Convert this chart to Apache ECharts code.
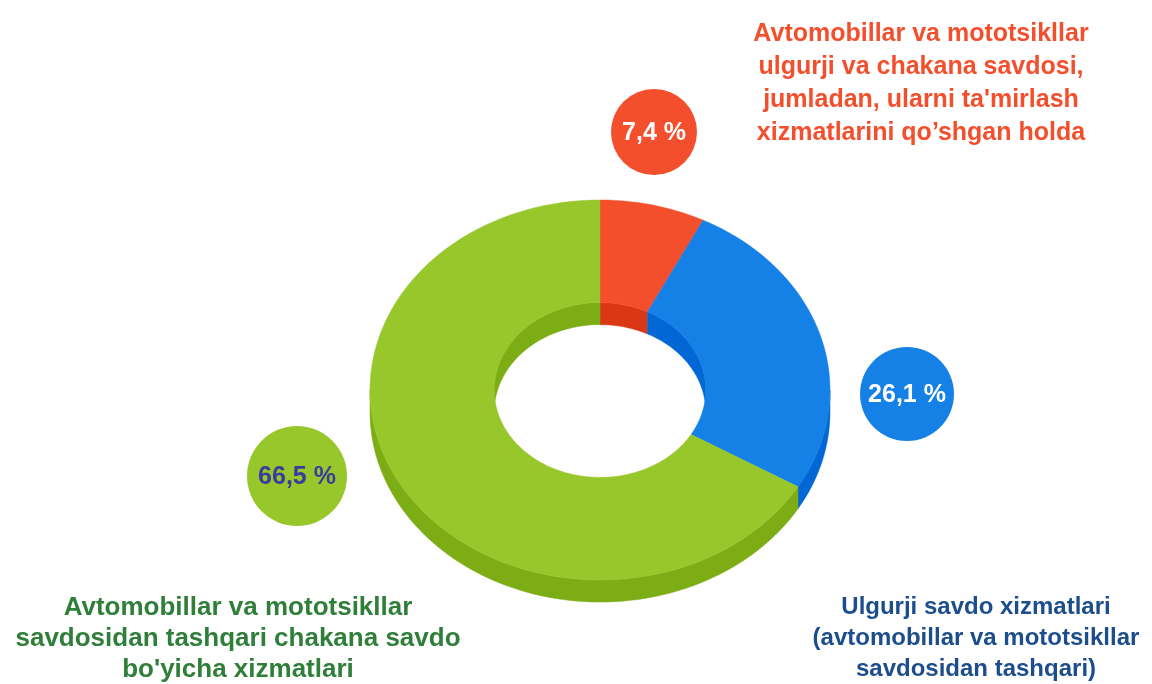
<!DOCTYPE html>
<html lang="uz">
<head>
<meta charset="UTF-8" />
<title>Savdo xizmatlari tarkibi</title>
<script src="https://cdn.jsdelivr.net/npm/echarts@6/dist/echarts.min.js"></script>
<style>
    * { margin: 0; }
    #chart { width: 1152px; height: 684px; background: #fff; }
</style>
</head>
<body>
<div id="chart"></div>
<script>
const categories = [
    "Avtomobillar va mototsikllar\nulgurji va chakana savdosi,\njumladan, ularni ta'mirlash\nxizmatlarini qo’shgan holda",
    "Ulgurji savdo xizmatlari\n(avtomobillar va mototsikllar\nsavdosidan tashqari)",
    "Avtomobillar va mototsikllar\nsavdosidan tashqari chakana savdo\nbo'yicha xizmatlari"
];
const shares = [7.4, 26.1, 66.5];

const topColors = ["#F44F2D", "#1580E6", "#97C72B"];
const sideColors = ["#DA3814", "#0067D5", "#7DAD14"];
const labelColors = ["#F44F2D", "#1C4D8C", "#2F7F3A"];
const bubbleTextColors = ["#FFFFFF", "#FFFFFF", "#3B3B9E"];

// annotation layout: bubble [cx, cy, r], label [x, y, fontSize, lineHeight]
const bubbleLayout = [[654, 132, 43], [907, 394, 47], [297, 476, 50]];
const labelLayout = [[921, 84, 25, 33], [976, 638, 24, 31], [238, 639, 26, 31]];

const INNER = 0.46;   // hole radius relative to outer
const DEPTH = 0.116;  // thickness in y-axis units
const STEPS = 180;
const FONT = '"Liberation Sans", Arial, sans-serif';
const PI = Math.PI;

const total = shares.reduce((a, b) => a + b, 0);
let acc = 0;
const sliceData = shares.map((v, i) => {
    const item = { name: categories[i], value: [acc, v] };
    acc += v;
    return item;
});

function angles(api) {
    const a0 = api.value(0) / total * PI * 2;
    const a1 = (api.value(0) + api.value(1)) / total * PI * 2;
    return [a0, a1];
}

function pt(api, r, t, dy) {
    return api.coord([r * Math.sin(t), r * Math.cos(t) - (dy || 0)]);
}

function segCount(a0, a1) {
    return Math.max(2, Math.ceil(STEPS * (a1 - a0) / (PI * 2)));
}

// one wall band between angles s and e at radius r
function wall(api, r, s, e, color) {
    const n = segCount(s, e);
    const points = [];
    for (let k = 0; k <= n; k++) points.push(pt(api, r, s + (e - s) * k / n));
    for (let k = n; k >= 0; k--) points.push(pt(api, r, s + (e - s) * k / n, DEPTH));
    return { type: 'polygon', shape: { points: points }, style: { fill: color, stroke: color, lineWidth: 0.5 } };
}

// outer wall on the front half, inner wall on the back half
function renderWall(params, api) {
    const [a0, a1] = angles(api);
    const color = sideColors[params.dataIndex];
    const children = [];
    const ranges = [
        [1, PI / 2, 3 * PI / 2],
        [INNER, 0, PI / 2],
        [INNER, 3 * PI / 2, 2 * PI]
    ];
    ranges.forEach(([r, lo, hi]) => {
        const s = Math.max(a0, lo), e = Math.min(a1, hi);
        if (e > s) children.push(wall(api, r, s, e, color));
    });
    return { type: 'group', children: children };
}

function renderTop(params, api) {
    const [a0, a1] = angles(api);
    const color = topColors[params.dataIndex];
    const n = segCount(a0, a1);
    const points = [];
    for (let k = 0; k <= n; k++) points.push(pt(api, 1, a0 + (a1 - a0) * k / n));
    for (let k = n; k >= 0; k--) points.push(pt(api, INNER, a0 + (a1 - a0) * k / n));
    return {
        type: 'polygon',
        shape: { points: points },
        style: { fill: color, stroke: color, lineWidth: 0.5 }
    };
}

function fmt(v) {
    return v.toFixed(1).replace('.', ',') + ' %';
}

const graphics = [];
shares.forEach((v, i) => {
    const [cx, cy, r] = bubbleLayout[i];
    graphics.push({ type: 'circle', shape: { cx: cx, cy: cy, r: r }, style: { fill: topColors[i] } });
    graphics.push({
        type: 'text', x: cx, y: cy + 1,
        style: {
            text: fmt(v), font: 'bold 25px ' + FONT, fill: bubbleTextColors[i],
            align: 'center', verticalAlign: 'middle', textAlign: 'center', textVerticalAlign: 'middle'
        }
    });
    const [lx, ly, fs, lh] = labelLayout[i];
    graphics.push({
        type: 'text', x: lx, y: ly,
        style: {
            text: categories[i], font: 'bold ' + fs + 'px ' + FONT, fill: labelColors[i], lineHeight: lh,
            align: 'center', verticalAlign: 'middle', textAlign: 'center', textVerticalAlign: 'middle'
        }
    });
});

const myChart = echarts.init(document.getElementById('chart'));
myChart.setOption({
    animation: false,
    backgroundColor: '#ffffff',
    grid: { left: 370, top: 200, width: 460, height: 380 },
    xAxis: { type: 'value', min: -1, max: 1, show: false },
    yAxis: { type: 'value', min: -1, max: 1, show: false },
    series: [
        { type: 'custom', coordinateSystem: 'cartesian2d', clip: false, renderItem: renderWall, data: sliceData, z: 1 },
        { type: 'custom', coordinateSystem: 'cartesian2d', clip: false, renderItem: renderTop, data: sliceData, z: 2 }
    ],
    graphic: graphics
});
</script>
</body>
</html>
